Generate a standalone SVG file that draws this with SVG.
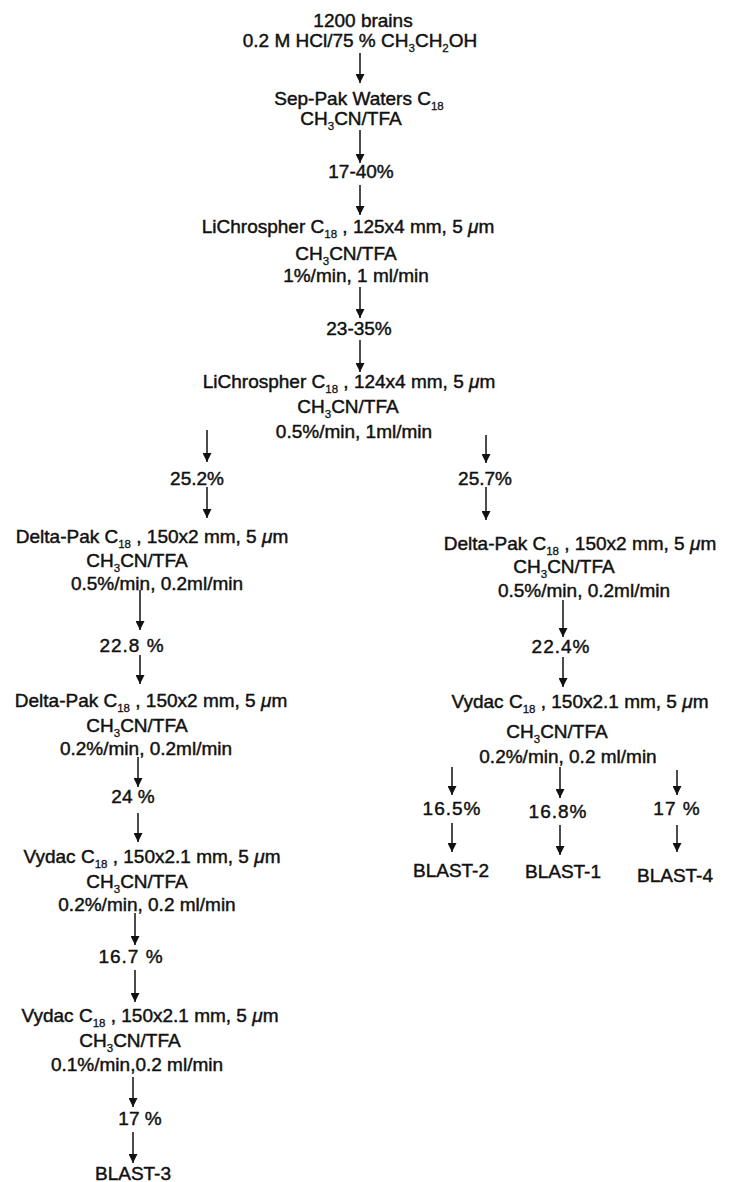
<svg xmlns="http://www.w3.org/2000/svg" width="729" height="1182" viewBox="0 0 729 1182">
  <style>
    text { font-family: "Liberation Sans", Arial, sans-serif; font-size: 19px; fill: #111; stroke: #111; stroke-width: 0.45; text-anchor: middle; }
    .sub { font-size: 11.5px; stroke-width: 0.3; }
    .mu { font-style: italic; }
    .pct { letter-spacing: 1px; }
    .arrow { stroke: #111; stroke-width: 1.5; fill: none; marker-end: url(#head); }
  </style>
  <defs>
    <marker id="head" viewBox="0 0 10 10" refX="10" refY="5" markerUnits="userSpaceOnUse" markerWidth="11" markerHeight="9" orient="auto">
      <path d="M0,0 L10,5 L0,10 z" fill="#111"/>
    </marker>
  </defs>
  <rect width="729" height="1182" fill="#fff"/>

  <!-- connectors -->
  <g id="connectors">
    <line class="arrow" x1="360" y1="53" x2="360" y2="83"/>
    <line class="arrow" x1="360" y1="130" x2="360" y2="163"/>
    <line class="arrow" x1="360" y1="185" x2="360" y2="215"/>
    <line class="arrow" x1="360" y1="287" x2="360" y2="318"/>
    <line class="arrow" x1="360" y1="340" x2="360" y2="372"/>
    <line class="arrow" x1="207" y1="430" x2="207" y2="462"/>
    <line class="arrow" x1="486" y1="435" x2="486" y2="463"/>
    <line class="arrow" x1="207" y1="487" x2="207" y2="518"/>
    <line class="arrow" x1="486" y1="487" x2="486" y2="520"/>
    <line class="arrow" x1="140" y1="590" x2="140" y2="630"/>
    <line class="arrow" x1="140" y1="655" x2="140" y2="684"/>
    <line class="arrow" x1="563" y1="600" x2="563" y2="637"/>
    <line class="arrow" x1="563" y1="657" x2="563" y2="687"/>
    <line class="arrow" x1="138" y1="757" x2="138" y2="787"/>
    <line class="arrow" x1="138" y1="813" x2="138" y2="842"/>
    <line class="arrow" x1="135" y1="913" x2="135" y2="945"/>
    <line class="arrow" x1="135" y1="970" x2="135" y2="1002"/>
    <line class="arrow" x1="133" y1="1077" x2="133" y2="1107"/>
    <line class="arrow" x1="133" y1="1132" x2="133" y2="1163"/>
    <line class="arrow" x1="452" y1="767" x2="452" y2="795"/>
    <line class="arrow" x1="560" y1="767" x2="560" y2="798"/>
    <line class="arrow" x1="677" y1="770" x2="677" y2="795"/>
    <line class="arrow" x1="452" y1="823" x2="452" y2="852"/>
    <line class="arrow" x1="560" y1="825" x2="560" y2="855"/>
    <line class="arrow" x1="677" y1="825" x2="677" y2="852"/>
  </g>

  <!-- extraction -->
  <g id="extract">
    <text x="363" y="27">1200 brains</text>
    <text x="360" y="47">0.2 M HCl/75 % CH<tspan class="sub" dy="5">3</tspan><tspan dy="-5">CH</tspan><tspan class="sub" dy="5">2</tspan><tspan dy="-5">OH</tspan></text>
  </g>

  <g id="seppak">
    <text x="359" y="105">Sep-Pak Waters C<tspan class="sub" dy="5">18</tspan></text>
    <text x="351" y="125">CH<tspan class="sub" dy="5">3</tspan><tspan dy="-5">CN/TFA</tspan></text>
  </g>

  <g id="frac-17-40"><text x="361" y="178">17-40%</text></g>

  <g id="lichro-1">
    <text x="348" y="233">LiChrospher C<tspan class="sub" dy="5">18</tspan><tspan dy="-5"> , 125x4 mm, 5 </tspan><tspan class="mu">μ</tspan>m</text>
    <text x="346" y="260">CH<tspan class="sub" dy="5">3</tspan><tspan dy="-5">CN/TFA</tspan></text>
    <text x="356" y="282">1%/min, 1 ml/min</text>
  </g>

  <g id="frac-23-35"><text x="359" y="335">23-35%</text></g>

  <g id="lichro-2">
    <text x="349" y="388">LiChrospher C<tspan class="sub" dy="5">18</tspan><tspan dy="-5"> , 124x4 mm, 5 </tspan><tspan class="mu">μ</tspan>m</text>
    <text x="348" y="413">CH<tspan class="sub" dy="5">3</tspan><tspan dy="-5">CN/TFA</tspan></text>
    <text x="354" y="438">0.5%/min, 1ml/min</text>
  </g>

  <!-- left branch -->
  <g id="frac-25-2"><text x="197" y="485">25.2%</text></g>

  <g id="deltapak-l1">
    <text x="152" y="543">Delta-Pak C<tspan class="sub" dy="5">18</tspan><tspan dy="-5"> , 150x2 mm, 5 </tspan><tspan class="mu">μ</tspan>m</text>
    <text x="137" y="567">CH<tspan class="sub" dy="5">3</tspan><tspan dy="-5">CN/TFA</tspan></text>
    <text x="157" y="590">0.5%/min, 0.2ml/min</text>
  </g>

  <g id="frac-22-8"><text class="pct" x="132" y="652">22.8 %</text></g>

  <g id="deltapak-l2">
    <text x="151" y="707">Delta-Pak C<tspan class="sub" dy="5">18</tspan><tspan dy="-5"> , 150x2 mm, 5 </tspan><tspan class="mu">μ</tspan>m</text>
    <text x="137" y="732">CH<tspan class="sub" dy="5">3</tspan><tspan dy="-5">CN/TFA</tspan></text>
    <text x="146" y="755">0.2%/min, 0.2ml/min</text>
  </g>

  <g id="frac-24"><text x="133" y="803">24 %</text></g>

  <g id="vydac-l1">
    <text x="152" y="863">Vydac C<tspan class="sub" dy="5">18</tspan><tspan dy="-5"> , 150x2.1 mm, 5 </tspan><tspan class="mu">μ</tspan>m</text>
    <text x="137" y="888">CH<tspan class="sub" dy="5">3</tspan><tspan dy="-5">CN/TFA</tspan></text>
    <text x="147" y="911">0.2%/min, 0.2 ml/min</text>
  </g>

  <g id="frac-16-7"><text class="pct" x="131" y="963">16.7 %</text></g>

  <g id="vydac-l2">
    <text x="150" y="1022">Vydac C<tspan class="sub" dy="5">18</tspan><tspan dy="-5"> , 150x2.1 mm, 5 </tspan><tspan class="mu">μ</tspan>m</text>
    <text x="130" y="1047">CH<tspan class="sub" dy="5">3</tspan><tspan dy="-5">CN/TFA</tspan></text>
    <text x="137" y="1071">0.1%/min,0.2 ml/min</text>
  </g>

  <g id="frac-17-l"><text x="140" y="1125">17 %</text></g>

  <g id="blast-3"><text x="133" y="1180">BLAST-3</text></g>

  <!-- right branch -->
  <g id="frac-25-7"><text x="485" y="485">25.7%</text></g>

  <g id="deltapak-r">
    <text x="580" y="550">Delta-Pak C<tspan class="sub" dy="5">18</tspan><tspan dy="-5"> , 150x2 mm, 5 </tspan><tspan class="mu">μ</tspan>m</text>
    <text x="564" y="573">CH<tspan class="sub" dy="5">3</tspan><tspan dy="-5">CN/TFA</tspan></text>
    <text x="584" y="597">0.5%/min, 0.2ml/min</text>
  </g>

  <g id="frac-22-4"><text class="pct" x="561" y="653">22.4%</text></g>

  <g id="vydac-r">
    <text x="580" y="708">Vydac C<tspan class="sub" dy="5">18</tspan><tspan dy="-5"> , 150x2.1 mm, 5 </tspan><tspan class="mu">μ</tspan>m</text>
    <text x="557" y="738">CH<tspan class="sub" dy="5">3</tspan><tspan dy="-5">CN/TFA</tspan></text>
    <text x="568" y="763">0.2%/min, 0.2 ml/min</text>
  </g>

  <g id="frac-16-5"><text class="pct" x="452" y="815">16.5%</text></g>
  <g id="frac-16-8"><text class="pct" x="558" y="818">16.8%</text></g>
  <g id="frac-17-r"><text class="pct" x="677" y="815">17 %</text></g>

  <g id="blast-2"><text x="451" y="877">BLAST-2</text></g>
  <g id="blast-1"><text x="563" y="878">BLAST-1</text></g>
  <g id="blast-4"><text x="675" y="882">BLAST-4</text></g>
</svg>
